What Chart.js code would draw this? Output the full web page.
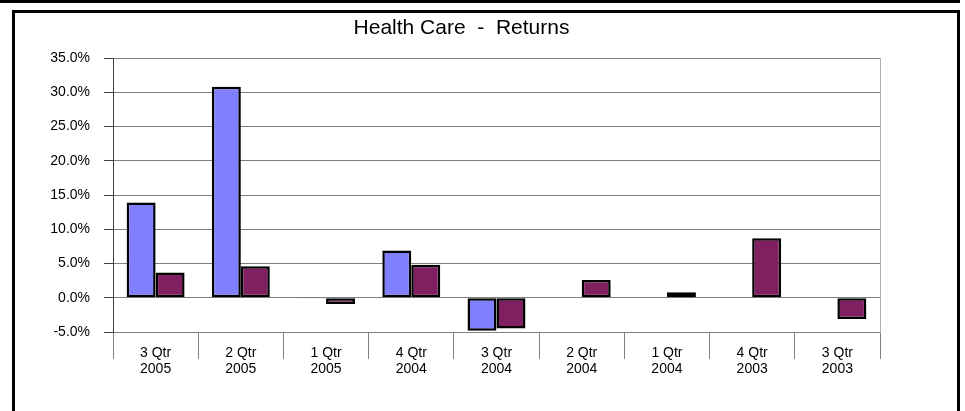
<!DOCTYPE html>
<html>
<head>
<meta charset="utf-8">
<script src="https://cdn.jsdelivr.net/npm/chart.js@4"></script>
<style>
  html, body { margin: 0; padding: 0; background: #fff; overflow: hidden; }
  #wrap { position: relative; width: 965px; height: 411px; }
  #prev { position: absolute; left: -10px; top: -27px; width: 970px; height: 30px; border: 3px solid #000; box-sizing: border-box; }
  #frame { position: absolute; left: 12px; top: 10px; width: 948px; height: 430px; border: 3px solid #000; box-sizing: border-box; }
  canvas { position: absolute; left: 0; top: 0; }
</style>
</head>
<body>
<div id="wrap">
  <div id="prev"></div>
  <div id="frame"></div>
  <canvas id="grafico" width="965" height="411"></canvas>
</div>
<script>
const quarters = [
    ["3 Qtr", "2005"],
    ["2 Qtr", "2005"],
    ["1 Qtr", "2005"],
    ["4 Qtr", "2004"],
    ["3 Qtr", "2004"],
    ["2 Qtr", "2004"],
    ["1 Qtr", "2004"],
    ["4 Qtr", "2003"],
    ["3 Qtr", "2003"]
];

// returns in percent
const fundReturns = [13.9, 30.8, -0.1, 6.9, -4.8, null, null, null, null];
const benchReturns = [3.7, 4.6, -0.9, 4.8, -4.5, 2.6, 0.8, 8.7, -3.1];

const fonte = "'Liberation Sans', Arial, sans-serif";

new Chart(document.getElementById("grafico"), {
    type: "bar",
    data: {
        labels: quarters,
        datasets: [
            {
                label: "Health Care",
                data: fundReturns,
                backgroundColor: "#8080ff",
                borderColor: "#000000",
                borderWidth: 2.5,
                borderSkipped: false
            },
            {
                label: "Benchmark",
                data: benchReturns,
                backgroundColor: "#802060",
                borderColor: "#000000",
                borderWidth: 2.5,
                borderSkipped: false
            }
        ]
    },
    options: {
        responsive: false,
        animation: false,
        layout: {
            padding: { left: 43, right: 85, top: 0, bottom: 33 }
        },
        datasets: {
            bar: { categoryPercentage: 0.68, barPercentage: 1.0 }
        },
        plugins: {
            legend: { display: false },
            tooltip: { enabled: false },
            title: {
                display: true,
                text: "Health Care  -  Returns",
                color: "#000000",
                font: { family: fonte, size: 21, weight: "normal" },
                padding: { top: 16, bottom: 16.8 }
            }
        },
        scales: {
            x: {
                offset: true,
                afterFit: (s) => { s.height = 46; },
                grid: {
                    offset: true,
                    drawOnChartArea: false,
                    tickLength: 27,
                    color: "#808080"
                },
                border: { color: "#808080" },
                ticks: {
                    color: "#000000",
                    padding: -14,
                    maxRotation: 0,
                    font: { family: fonte, size: 14, lineHeight: 1.15 }
                }
            },
            y: {
                min: -5,
                max: 35,
                afterFit: (s) => { s.width = 70; },
                grid: {
                    color: "#808080",
                    tickColor: "#404040",
                    tickLength: 9
                },
                border: { color: "#404040" },
                ticks: {
                    stepSize: 5,
                    padding: 14,
                    color: "#000000",
                    font: { family: fonte, size: 14 },
                    callback: (v) => v.toFixed(1) + "%"
                }
            },
            y2: {
                position: "right",
                min: -5,
                max: 35,
                afterFit: (s) => { s.width = 0; },
                grid: { drawOnChartArea: false, drawTicks: false },
                border: { color: "#b0b0b0" },
                ticks: { display: false }
            }
        }
    }
});
</script>
</body>
</html>
